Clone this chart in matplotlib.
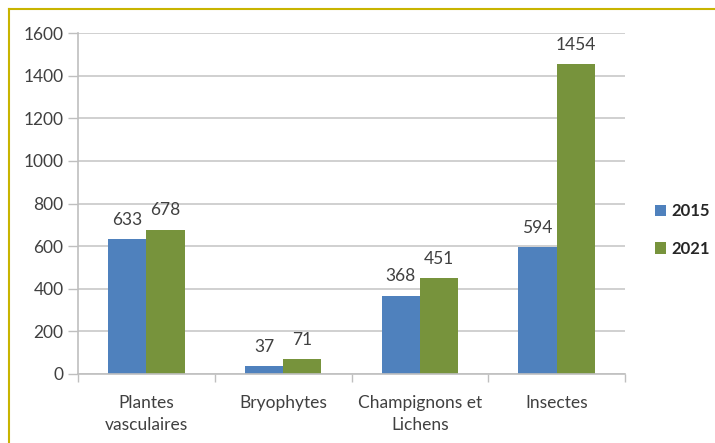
import matplotlib.pyplot as plt
import numpy as np

categories = ["Plantes\nvasculaires", "Bryophytes", "Champignons et\nLichens", "Insectes"]
years = ["2015", "2021"]
values_2015 = [633, 37, 368, 594]
values_2021 = [678, 71, 451, 1454]
yticks = [0, 200, 400, 600, 800, 1000, 1200, 1400, 1600]

plt.rcParams['font.family'] = ['Lato', 'DejaVu Sans']
txt = '#404040'

fig = plt.figure(figsize=(7.15, 4.43), dpi=100)
ax = fig.add_axes([78 / 715, 1 - 374 / 443, (625 - 78) / 715, (374 - 33) / 443])

x = np.arange(len(categories))
w = 0.28
b1 = ax.bar(x - w / 2, values_2015, w, color='#4F81BD', label=years[0])
b2 = ax.bar(x + w / 2, values_2021, w, color='#77933C', label=years[1])
for bars in (b1, b2):
    ax.bar_label(bars, padding=8, fontsize=12.5, color=txt)

ax.set_xlim(-0.5, len(categories) - 0.5)
ax.set_ylim(0, 1600)
ax.set_yticks(yticks)
ax.tick_params(axis='y', labelsize=12.5, labelcolor=txt, color='#BFBFBF', length=7, width=1)
ax.yaxis.grid(True, color='#C8C8C8', linewidth=1.2)
ax.set_axisbelow(True)

ax.set_xticks(x)
ax.set_xticklabels(categories, fontsize=12.5, color=txt, linespacing=1.45)
ax.tick_params(axis='x', length=0, pad=15)
ax.set_xticks(np.arange(-0.5, len(categories)), minor=True)
ax.tick_params(axis='x', which='minor', length=6, color='#BFBFBF', width=1)

for s in ['top', 'right']:
    ax.spines[s].set_visible(False)
ax.spines['left'].set_color('#BFBFBF')
ax.spines['bottom'].set_color('#BFBFBF')
ax.spines['left'].set_linewidth(1.2)
ax.spines['bottom'].set_linewidth(1.2)

leg = ax.legend(loc='center left', bbox_to_anchor=(655 / 715, 1 - 230 / 443),
                bbox_transform=fig.transFigure, frameon=False, handlelength=0.65,
                handleheight=0.65, handletextpad=0.35, labelspacing=1.3, borderpad=0,
                borderaxespad=0, prop={'size': 12, 'weight': 'bold'})
for t in leg.get_texts():
    t.set_color('#262626')

# cadre jaune haut / gauche
fig.add_artist(plt.Line2D([9 / 715, 1], [1 - 9 / 443, 1 - 9 / 443], color='#C8B400', linewidth=1.5,
                          transform=fig.transFigure))
fig.add_artist(plt.Line2D([9 / 715, 9 / 715], [0, 1 - 9 / 443], color='#C8B400', linewidth=1.5,
                          transform=fig.transFigure))

fig.savefig('out.png', dpi=100)
